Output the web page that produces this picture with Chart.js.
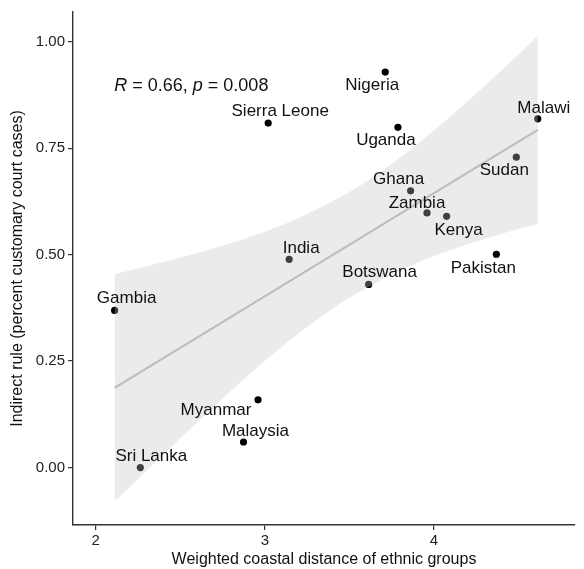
<!DOCTYPE html>
<html>
<head>
<meta charset="utf-8">
<script src="https://cdn.jsdelivr.net/npm/chart.js@4/dist/chart.umd.min.js"></script>
<style>
html, body { margin: 0; padding: 0; background: #fff; }
#wrap { width: 584px; height: 569px; position: relative; }
</style>
</head>
<body>
<div id="wrap"><canvas id="coastChart"></canvas></div>
<script>
// country points
const countries = ["Sierra Leone", "Nigeria", "Uganda", "Malawi", "Sudan", "Ghana", "Zambia", "Kenya",
  "Pakistan", "India", "Botswana", "Gambia", "Myanmar", "Malaysia", "Sri Lanka"];
const coastalDist = [3.02, 3.712, 3.787, 4.614, 4.487, 3.862, 3.959, 4.075, 4.369, 3.144, 3.614, 2.112, 2.960, 2.874, 2.264];
const indirectRule = [0.809, 0.929, 0.799, 0.819, 0.729, 0.650, 0.598, 0.590, 0.501, 0.489, 0.430, 0.369, 0.159, 0.060, 0.0];

// fitted line + confidence band
const fitX = [2.112, 4.614];
const fitY = [0.187, 0.793];
const bandX = [2.112, 2.3, 2.5, 2.7, 2.9, 3.1, 3.3, 3.5, 3.7, 3.9, 4.1, 4.3, 4.5, 4.614];
const bandUpper = [0.454, 0.473, 0.493, 0.515, 0.540, 0.569, 0.605, 0.647, 0.699, 0.759, 0.825, 0.897, 0.970, 1.014];
const bandLower = [-0.080, -0.008, 0.069, 0.143, 0.216, 0.283, 0.345, 0.399, 0.443, 0.481, 0.511, 0.537, 0.560, 0.572];

const xTicks = [2, 3, 4];
const yTicks = [0, 0.25, 0.5, 0.75, 1];
const statText = [["R", true], [" = 0.66, ", false], ["p", true], [" = 0.008", false]];

const FONT = "'Liberation Sans', Arial, sans-serif";

// label offsets in px from each point (text centre)
const labelOffsets = [[12, -12], [-13, 13], [-12, 13], [6, -11], [-12, 13], [-12, -11], [-10, -10], [12, 14],
  [-13, 14], [12, -11], [11, -12], [12, -12], [-42, 10], [12, -11], [11, -11]];

const pts = coastalDist.map((x, i) => ({ x: x, y: indirectRule[i] }));
const upper = bandX.map((x, i) => ({ x: x, y: bandUpper[i] }));
const lower = bandX.map((x, i) => ({ x: x, y: bandLower[i] }));
const fit = fitX.map((x, i) => ({ x: x, y: fitY[i] }));

const labelPlugin = {
  id: "labels",
  afterDatasetsDraw(chart) {
    const ctx = chart.ctx;
    const meta = chart.getDatasetMeta(3);
    ctx.save();
    ctx.font = "17px " + FONT;
    ctx.fillStyle = "#111";
    ctx.textAlign = "center";
    ctx.textBaseline = "middle";
    meta.data.forEach((p, i) => {
      ctx.fillText(countries[i], p.x + labelOffsets[i][0], p.y + labelOffsets[i][1]);
    });

    // R / p annotation
    let x = chart.scales.x.getPixelForValue(2.11);
    const y = chart.scales.y.getPixelForValue(0.8955);
    ctx.textAlign = "left";
    statText.forEach(([t, it]) => {
      ctx.font = (it ? "italic " : "") + "18px " + FONT;
      ctx.fillText(t, x, y);
      x += ctx.measureText(t).width;
    });
    ctx.restore();
  }
};

new Chart(document.getElementById("coastChart"), {
  type: "scatter",
  data: {
    datasets: [
      {
        data: fit, showLine: true, borderColor: "#bdbdbd", borderWidth: 2.2,
        pointRadius: 0, fill: false, order: 0
      },
      {
        data: upper, showLine: true, borderColor: "transparent", borderWidth: 0,
        pointRadius: 0, cubicInterpolationMode: "monotone",
        fill: { target: 2 }, backgroundColor: "rgba(194,194,194,0.33)", order: 1
      },
      {
        data: lower, showLine: true, borderColor: "transparent", borderWidth: 0,
        pointRadius: 0, cubicInterpolationMode: "monotone", fill: false, order: 2
      },
      {
        data: pts, pointRadius: 3.6, pointBackgroundColor: "#000",
        pointBorderWidth: 0, order: 3
      }
    ]
  },
  options: {
    responsive: true,
    maintainAspectRatio: false,
    animation: false,
    layout: { padding: { top: 6, right: 9, left: 0, bottom: 0 } },
    plugins: { legend: { display: false }, tooltip: { enabled: false } },
    scales: {
      x: {
        type: "linear", min: 1.866, max: 4.834,
        afterBuildTicks: s => { s.ticks = xTicks.map(v => ({ value: v })); },
        afterFit: s => { s.height = 44; },
        grid: { drawOnChartArea: false, drawTicks: true, tickLength: 5, color: "#333", lineWidth: 1.2 },
        border: { display: true, color: "#333", width: 1.4 },
        ticks: { color: "#222", font: { size: 15, family: FONT }, padding: 2, maxRotation: 0,
          callback: v => String(v) },
        title: { display: true, text: "Weighted coastal distance of ethnic groups", color: "#111",
          font: { size: 16, family: FONT, lineHeight: 1 }, padding: { top: 0, bottom: 1 } }
      },
      y: {
        type: "linear", min: -0.135, max: 1.07,
        afterBuildTicks: s => { s.ticks = yTicks.map(v => ({ value: v })); },
        afterFit: s => { s.width = 73; },
        grid: { drawOnChartArea: false, drawTicks: true, tickLength: 5, color: "#333", lineWidth: 1.2 },
        border: { display: true, color: "#333", width: 1.4 },
        ticks: { color: "#222", font: { size: 15, family: FONT }, padding: 3,
          callback: v => Number(v).toFixed(2) },
        title: { display: true, text: "Indirect rule (percent customary court cases)", color: "#111",
          font: { size: 16, family: FONT, lineHeight: 1 }, padding: { top: 10, bottom: 0 } }
      }
    }
  },
  plugins: [labelPlugin]
});
</script>
</body>
</html>
